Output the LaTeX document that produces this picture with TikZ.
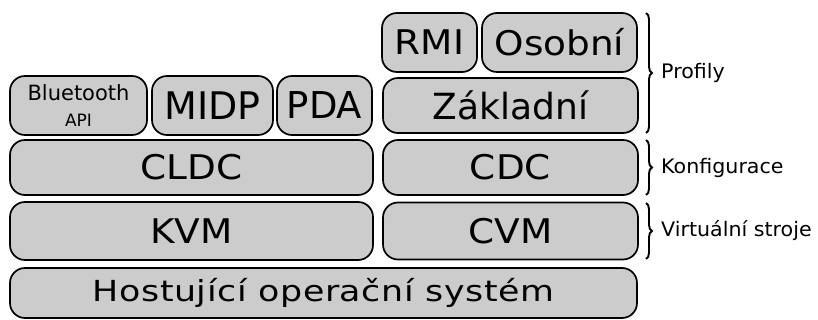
\documentclass[tikz,border=0pt]{standalone}
\usepackage{fontspec}
\setmainfont{DejaVu Sans}
\usetikzlibrary{positioning,decorations.pathreplacing}

\begin{document}
\begin{tikzpicture}[x=1pt, y=-1pt]
	\useasboundingbox (0, 0) rectangle (818, 320);
	\begin{scope}
		\tikzstyle{every node}=[align=center, inner sep=0pt]
		\tikzstyle{layer}=[draw, line width=1.7pt, fill=black!20, rounded corners=15pt, font=\fontsize{34}{36}\selectfont\addfontfeatures{FakeStretch=1.1}]
		\tikzstyle{brc}=[decorate, decoration={brace, amplitude=6pt}, line width=1.9pt]
		\tikzstyle{lbl}=[anchor=west, font=\fontsize{20}{22}\selectfont\addfontfeatures{FakeStretch=1.03}]

		% host system
		\node[layer, minimum width=627pt, minimum height=50pt, font=\fontsize{29}{30}\selectfont\addfontfeatures{FakeStretch=1.2, LetterSpace=2}] (host) at (323.5, 293) {Hostující operační systém};

		% virtual machines
		\node[layer, minimum width=363pt, minimum height=58pt] (kvm) at (191.5, 231) {KVM};
		\node[layer, minimum width=255pt, minimum height=57pt] (cvm) at (510.5, 231) {CVM};

		% configurations
		\node[layer, minimum width=363pt, minimum height=55pt] (cldc) at (191.5, 167.5) {CLDC};
		\node[layer, minimum width=255pt, minimum height=55pt] (cdc)  at (510.5, 167.5) {CDC};

		% profiles
		\node[layer, minimum width=137pt, minimum height=59pt, font=\fontsize{21}{26}\selectfont] (bt) at (78.5, 105.5) {Bluetooth\\{\fontsize{17}{18}\selectfont API}};
		\node[layer, minimum width=121pt, minimum height=59pt, font=\fontsize{38}{40}\selectfont] (midp) at (212.5, 105.5) {MIDP};
		\node[layer, minimum width=95pt,  minimum height=59pt, font=\fontsize{37}{40}\selectfont] (pda)  at (324.5, 105.5) {PDA};
		\node[layer, minimum width=255pt, minimum height=55pt, font=\fontsize{36}{38}\selectfont] (zakl) at (510.5, 105.5) {Základní};
		\node[layer, minimum width=95pt,  minimum height=59pt] (rmi) at (429.5, 42.5) {RMI};
		\node[layer, minimum width=155pt, minimum height=59pt] (osob) at (559.5, 42.5) {Osobní};

		% braces
		\draw[brc] (646, 13) -- (646, 133);
		\draw[brc] (646, 140) -- (646, 195);
		\draw[brc] (646, 203) -- (646, 259);

		\node[lbl] (prof) at (661, 73)  {Profily};
		\node[lbl] (konf) at (661, 167.5) {Konfigurace};
		\node[lbl] (virt) at (661, 231) {Virtuální stroje};
	\end{scope}
\end{tikzpicture}
\end{document}
